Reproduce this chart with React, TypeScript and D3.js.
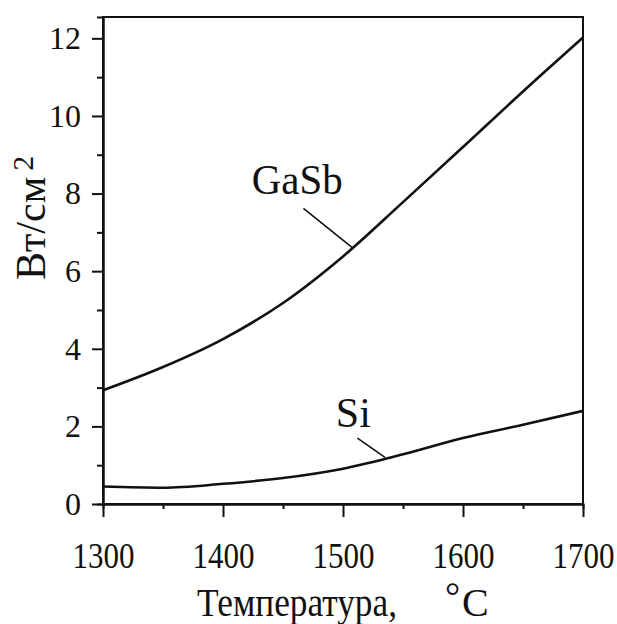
import React, { useEffect, useRef } from 'react';
import * as d3 from 'd3';

// temperature, °C
const temps = [1300, 1350, 1400, 1450, 1500, 1550, 1600, 1650, 1700];
// power density, W/cm2
const gasb = [2.93, 3.53, 4.25, 5.18, 6.38, 7.78, 9.2, 10.63, 12.02];
const si = [0.45, 0.42, 0.52, 0.67, 0.91, 1.28, 1.7, 2.04, 2.4];

const xTicks = [1300, 1400, 1500, 1600, 1700];
const xMinor = [1350, 1450, 1550, 1650];
const yTicks = [0, 2, 4, 6, 8, 10, 12];
const yMinor = [1, 3, 5, 7, 9, 11];

const FONT = 'Liberation Serif, DejaVu Serif, serif';

export default function App() {
    const ref = useRef<SVGSVGElement>(null);

    useEffect(() => {
        const svg = d3.select(ref.current);
        svg.selectAll('*').remove();

        const x = d3.scaleLinear().domain([1300, 1700]).range([103, 583]);
        const y = d3.scaleLinear().domain([0, 12.55]).range([504, 17]);

        // frame
        svg.append('rect')
            .attr('x', x(1300)).attr('y', y(12.55))
            .attr('width', x(1700) - x(1300)).attr('height', y(0) - y(12.55))
            .attr('fill', 'none').attr('stroke', '#111').attr('stroke-width', 2);

        // x axis: minor then major
        const gxm = svg.append('g').attr('transform', `translate(0,${y(0)})`)
            .call(d3.axisBottom(x).tickValues(xMinor).tickSize(5).tickFormat(() => ''));
        const gx = svg.append('g').attr('transform', `translate(0,${y(0)})`)
            .call(d3.axisBottom(x).tickValues(xTicks).tickSize(13).tickSizeOuter(0).tickPadding(25)
                .tickFormat(d3.format('d')));

        const gym = svg.append('g').attr('transform', `translate(${x(1300)},0)`)
            .call(d3.axisLeft(y).tickValues(yMinor).tickSize(6).tickFormat(() => ''));
        const gy = svg.append('g').attr('transform', `translate(${x(1300)},0)`)
            .call(d3.axisLeft(y).tickValues(yTicks).tickSize(11).tickSizeOuter(0).tickPadding(11)
                .tickFormat(d3.format('d')));

        [gxm, gx, gym, gy].forEach(g => {
            g.attr('font-family', null).attr('font-size', null);
            g.select('.domain').attr('stroke', '#111').attr('stroke-width', 2);
            g.selectAll('.tick line').attr('stroke', '#111').attr('stroke-width', 2);
        });
        gx.selectAll('.tick text')
            .style('font-family', FONT).style('font-size', '36px').attr('fill', '#111')
            .attr('textLength', 62).attr('lengthAdjust', 'spacingAndGlyphs');
        // last label kept inside the right edge
        gx.selectAll<SVGTextElement, number>('.tick text')
            .filter(d => d === 1700)
            .attr('text-anchor', 'end').attr('x', 31);
        gy.selectAll('.tick text')
            .style('font-family', FONT).style('font-size', '32px').attr('fill', '#111');

        const line = d3.line<number>()
            .x((d, i) => x(temps[i]))
            .y(d => y(d))
            .curve(d3.curveMonotoneX);

        [gasb, si].forEach(s => {
            svg.append('path').attr('d', line(s))
                .attr('fill', 'none').attr('stroke', '#111').attr('stroke-width', 2.6);
        });

        // labels and leaders
        const labels = [
            { text: 'GaSb', at: [1424, 8.0], len: 91, from: [1467, 7.62], to: [1508, 6.6] },
            { text: 'Si', at: [1494, 1.98], len: 35, from: [1512, 1.7], to: [1535, 1.2] },
        ];
        labels.forEach(l => {
            svg.append('text').text(l.text)
                .attr('x', x(l.at[0])).attr('y', y(l.at[1]))
                .style('font-family', FONT).style('font-size', '43px').attr('fill', '#111')
                .attr('textLength', l.len).attr('lengthAdjust', 'spacingAndGlyphs');
            svg.append('line')
                .attr('x1', x(l.from[0])).attr('y1', y(l.from[1]))
                .attr('x2', x(l.to[0])).attr('y2', y(l.to[1]))
                .attr('stroke', '#111').attr('stroke-width', 1.6);
        });

        // axis titles
        svg.append('text').text('Температура,')
            .attr('x', 197).attr('y', 616)
            .style('font-family', FONT).style('font-size', '40px').attr('fill', '#111')
            .attr('textLength', 200).attr('lengthAdjust', 'spacingAndGlyphs');
        svg.append('text').text('°')
            .attr('x', 445).attr('y', 609)
            .style('font-family', FONT).style('font-size', '38px').attr('fill', '#111');
        svg.append('text').text('C')
            .attr('x', 462).attr('y', 616)
            .style('font-family', FONT).style('font-size', '40px').attr('fill', '#111');

        const yt = svg.append('text')
            .attr('transform', 'translate(45,280) rotate(-90)')
            .style('font-family', FONT).style('font-size', '42px').attr('fill', '#111');
        yt.append('tspan').text('Вт/см');
        yt.append('tspan').text('2').attr('dx', 6).attr('dy', -12).style('font-size', '30px');
    }, []);

    return (
        <svg ref={ref} width={617} height={624}
            style={{ position: 'absolute', left: 0, top: 0, background: '#fff' }} />
    );
}
